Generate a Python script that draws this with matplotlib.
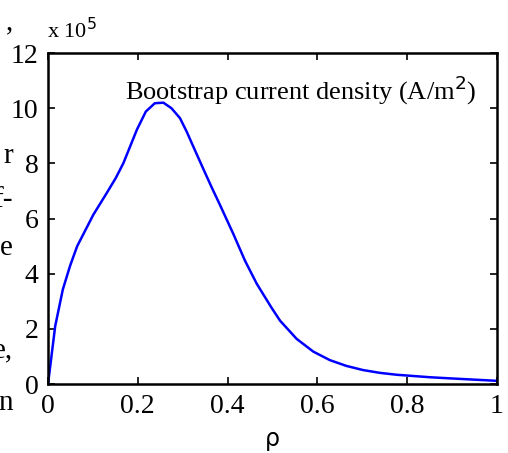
import matplotlib.pyplot as plt

plt.rcParams["font.family"] = ["Liberation Serif", "DejaVu Serif"]

# rho and bootstrap current density (units of 1e5 A/m^2)
rho = [0.0, 0.016, 0.033, 0.049, 0.065, 0.101, 0.131, 0.151, 0.168, 0.198,
       0.218, 0.238, 0.257, 0.275, 0.294, 0.309, 0.327, 0.346, 0.365, 0.383,
       0.413, 0.439, 0.465, 0.498, 0.517, 0.554, 0.591, 0.628, 0.665, 0.702,
       0.739, 0.777, 0.851, 0.895, 1.0]
jbs = [0.0, 2.1, 3.43, 4.28, 5.0, 6.14, 6.93, 7.47, 8.01, 9.22,
       9.88, 10.18, 10.2, 10.0, 9.64, 9.15, 8.49, 7.80, 7.12, 6.50,
       5.44, 4.47, 3.64, 2.77, 2.30, 1.64, 1.18, 0.87, 0.66, 0.51,
       0.41, 0.34, 0.25, 0.21, 0.12]

xticks = [0, 0.2, 0.4, 0.6, 0.8, 1]
xlabels = ["0", "0.2", "0.4", "0.6", "0.8", "1"]
yticks = [0, 2, 4, 6, 8, 10, 12]

# bits of the surrounding page text that show at the left edge
page_bits = [(",", 0.951), ("r", 0.656), ("f-", 0.558), ("e", 0.453),
             ("e,", 0.227), ("n", 0.110)]

fig = plt.figure(figsize=(5.08, 4.53), dpi=100)
ax = fig.add_axes([0.0945, 0.152, 0.8835, 0.731])

ax.plot(rho, jbs, color="#0000ff", lw=1.8)

ax.set_xlim(0, 1)
ax.set_ylim(0, 12)
ax.set_xticks(xticks)
ax.set_xticklabels(xlabels)
ax.set_yticks(yticks)
ax.tick_params(direction="in", length=5, width=1.2, top=True, right=True,
               labelsize=20, pad=7)
for s in ax.spines.values():
    s.set_linewidth(1.8)

ax.set_xlabel("ρ", family="DejaVu Sans", fontsize=17, labelpad=6)

ax.text(0.955, 0.887, "Bootstrap current density (A/m$^2$)",
        transform=ax.transAxes, ha="right", va="center", fontsize=19)
ax.text(-0.003, 1.03, r"x 10$^5$", transform=ax.transAxes, ha="left",
        va="bottom", fontsize=16)

for t, yy in page_bits:
    fig.text(0.025, yy, t, ha="right", va="center", fontsize=21)

fig.savefig("out.png", dpi=100)
